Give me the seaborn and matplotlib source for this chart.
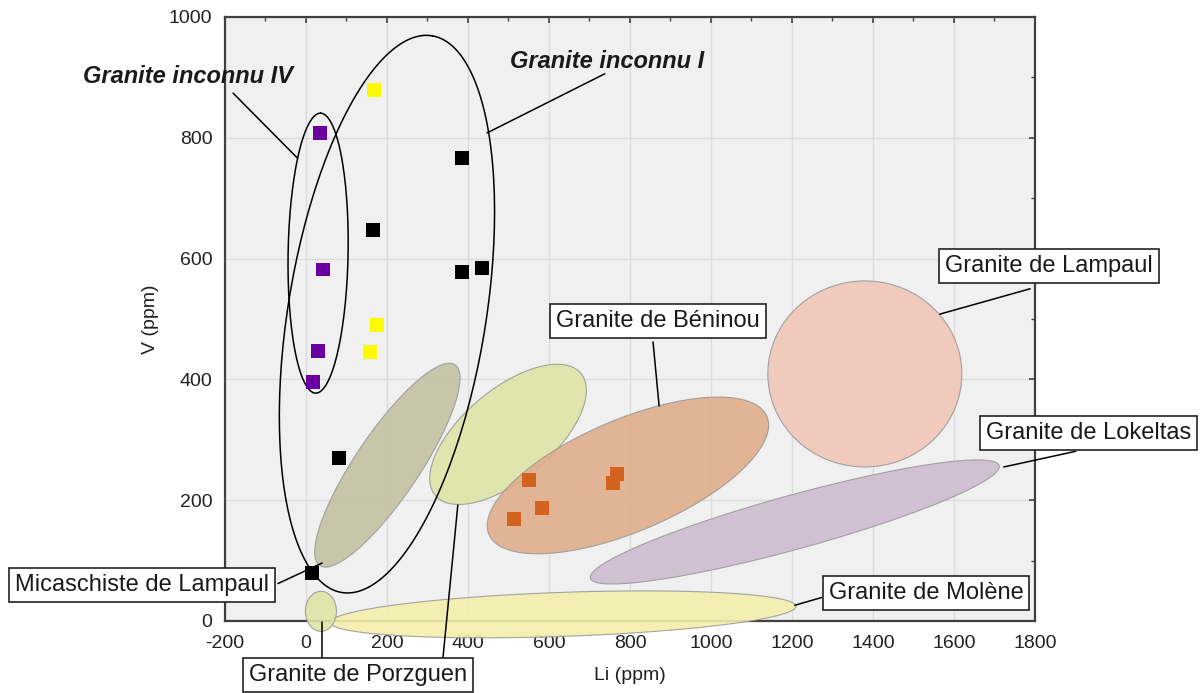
import numpy as np
import pandas as pd
import matplotlib
matplotlib.use('Agg')
import matplotlib.pyplot as plt
import seaborn as sns

# Sample points (Li ppm, V ppm)
inconnu_iv_li = [35, 42, 30, 17]
inconnu_iv_v = [808, 582, 447, 395]
jaune_li = [168, 175, 158]
jaune_v = [879, 490, 445]
inconnu_i_li = [385, 165, 385, 435, 81, 15]
inconnu_i_v = [766, 647, 578, 584, 270, 79]
beninou_li = [551, 582, 513, 769, 758]
beninou_v = [234, 187, 169, 243, 228]

# Fields (centre in Li/V units)
field_names = ['Micaschiste', 'Porzguen', 'Beninou', 'Lampaul', 'Lokeltas', 'Molene', 'Porzguen2']
field_li = [201, 499, 795, 1380, 1207, 635, 37]
field_v = [258, 309, 241, 409, 164, 11, 16]
field_colors = ['#c3c1a3', '#dfe4a6', '#dfae8a', '#f0c6b8', '#cdbccf', '#f4eeab', '#dfe4a6']
# outline groups (inconnu IV, inconnu I)
outline_li = [30, 200]
outline_v = [609, 508]

df = pd.DataFrame({
    'Li': inconnu_iv_li + jaune_li + inconnu_i_li + beninou_li,
    'V': inconnu_iv_v + jaune_v + inconnu_i_v + beninou_v,
    'grp': (['iv'] * len(inconnu_iv_li) + ['jaune'] * len(jaune_li)
            + ['i'] * len(inconnu_i_li) + ['ben'] * len(beninou_li)),
})
palette = {'iv': '#6a00a0', 'jaune': '#fafa00', 'i': '#000000', 'ben': '#d4621f'}

sns.set_style('white')
plt.rcParams['font.family'] = ['Liberation Sans', 'DejaVu Sans']
plt.rcParams['axes.unicode_minus'] = False

fig = plt.figure(figsize=(12.03, 6.93), dpi=100)
ax = fig.add_axes([0.187, 0.1039, 0.6733, 0.8716])
ax.set_xlim(-200, 1800)
ax.set_ylim(0, 1000)
ax.set_facecolor('#f0f0f0')

# pixels per data unit, to draw ellipses in screen proportions
sx = 1203 * 0.6733 / 2000
sy = 693 * 0.8716 / 1000


def ellipse_xy(cx, cy, a, b, ang):
    t = np.linspace(0, 2 * np.pi, 200)
    th = np.deg2rad(ang)
    dx = a * np.cos(t) * np.cos(th) - b * np.sin(t) * np.sin(th)
    dy = a * np.cos(t) * np.sin(th) + b * np.sin(t) * np.cos(th)
    return cx + dx / sx, cy + dy / sy


# shapes: semi-axes in px and tilt
shapes = [(121, 32, 56), (95, 45, 40), (151, 56, 23), (97, 93, 0),
          (212, 27, 15.4), (233, 22, 2), (20, 15.5, 90)]
for cx, cy, col, (a, b, ang) in zip(field_li, field_v, field_colors, shapes):
    ex, ey = ellipse_xy(cx, cy, a, b, ang)
    ax.fill(ex, ey, facecolor=col, edgecolor='#9a9a9a', lw=0.8, alpha=0.9,
            zorder=3, clip_on=False)

for cx, cy, (a, b, ang) in zip(outline_li, outline_v, [(140, 30, 89), (282, 99, 80.8)]):
    ex, ey = ellipse_xy(cx, cy, a, b, ang)
    ax.plot(ex, ey, color='black', lw=1.1, zorder=4)

sns.scatterplot(data=df, x='Li', y='V', hue='grp', palette=palette, marker='s',
                s=100, edgecolor='none', legend=False, zorder=6, ax=ax)

# axes styling
ax.set_xticks(range(-200, 1801, 200))
ax.set_yticks(range(0, 1001, 200))
ax.set_xticks(range(-100, 1800, 200), minor=True)
ax.set_yticks(range(100, 1000, 200), minor=True)
ax.grid(True, which='major', color='#dcdcdc', lw=1, zorder=0)
ax.set_axisbelow(True)
ax.tick_params(which='both', direction='in', top=True, right=True, color='#404040',
               labelsize=14, labelcolor='#222222')
ax.tick_params(which='major', length=4, width=1.2)
ax.tick_params(axis='x', which='major', pad=10)
ax.tick_params(axis='y', which='major', pad=9)
ax.tick_params(which='minor', length=3, width=1)
for sp in ax.spines.values():
    sp.set_color('#404040')
    sp.set_linewidth(1.6)
    sp.set_zorder(2.5)
ax.set_xlabel('Li (ppm)', fontsize=14, color='#222222')
ax.set_ylabel('V (ppm)', fontsize=14, color='#222222')
ax.xaxis.set_label_coords(0.5, -0.076)
ax.yaxis.set_label_coords(-0.082, 0.5)

# labels
box = dict(boxstyle='square,pad=0.25', facecolor='white', edgecolor='#222222', lw=1.2)


def label(x, y, txt):
    ax.text(x, y, txt, fontsize=17, ha='center', va='center', bbox=box,
            color='#1a1a1a', zorder=8, clip_on=False)


def leader(x1, y1, x2, y2):
    ax.plot([x1, x2], [y1, y2], color='black', lw=1.1, zorder=7, clip_on=False)


ax.text(-291, 901, 'Granite inconnu IV', fontsize=17, fontweight='bold',
        style='italic', ha='center', va='center', color='#1a1a1a', clip_on=False)
leader(-180, 874, -22, 767)
ax.text(743, 926, 'Granite inconnu I', fontsize=17, fontweight='bold',
        style='italic', ha='center', va='center', color='#1a1a1a')
leader(738, 906, 447, 808)

label(1835, 588, 'Granite de Lampaul')
leader(1788, 550, 1565, 508)
label(869, 497, 'Granite de Béninou')
leader(857, 462, 872, 356)
label(1933, 311, 'Granite de Lokeltas')
leader(1901, 281, 1723, 255)
label(1531, 46, 'Granite de Molène')
leader(1274, 39, 1207, 26)
label(-405, 59, 'Micaschiste de Lampaul')
leader(-69, 62, 40, 96)
label(128, -90, 'Granite de Porzguen')
leader(40, -63, 40, -2)
leader(338, -63, 375, 192)

fig.savefig('out.png', dpi=100)
